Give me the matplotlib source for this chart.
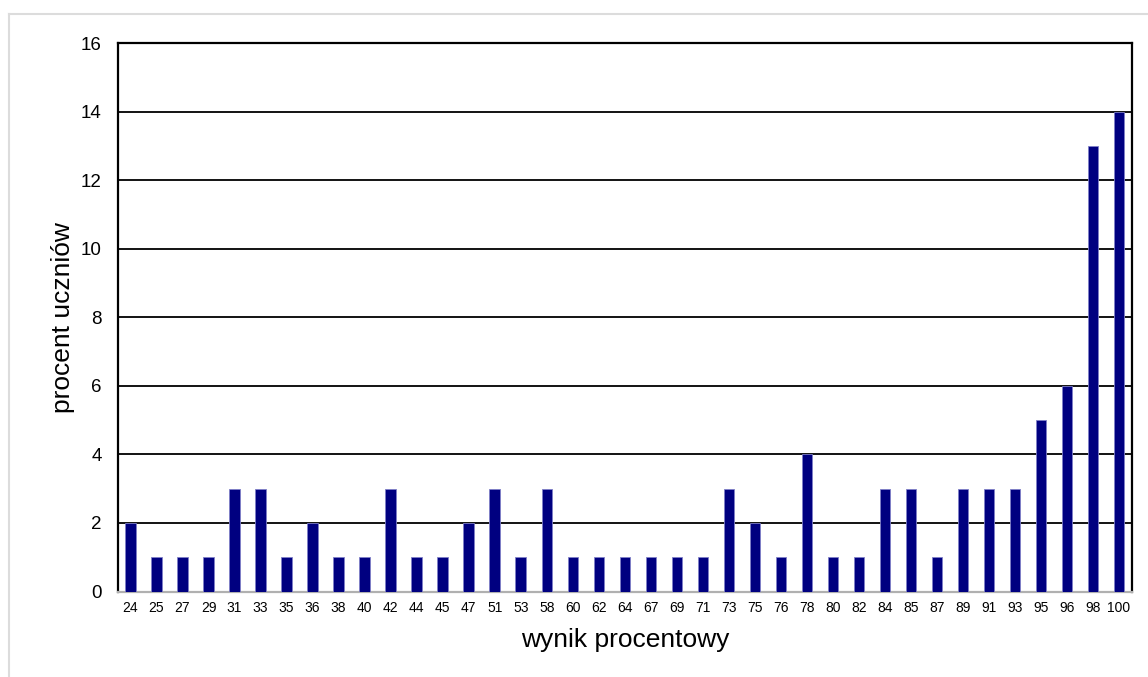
import numpy as np
import matplotlib.pyplot as plt
from matplotlib.lines import Line2D

plt.rcParams['font.family'] = ['Liberation Sans', 'DejaVu Sans']

wyniki = ['24', '25', '27', '29', '31', '33', '35', '36', '38', '40', '42', '44', '45',
          '47', '51', '53', '58', '60', '62', '64', '67', '69', '71', '73', '75', '76',
          '78', '80', '82', '84', '85', '87', '89', '91', '93', '95', '96', '98', '100']
procent = [2, 1, 1, 1, 3, 3, 1, 2, 1, 1, 3, 1, 1,
           2, 3, 1, 3, 1, 1, 1, 1, 1, 1, 3, 2, 1,
           4, 1, 1, 3, 3, 1, 3, 3, 3, 5, 6, 13, 14]

W, H = 1148, 677
fig = plt.figure(figsize=(W / 100, H / 100), dpi=100)
ax = fig.add_axes([117.5 / W, 1 - 591.5 / H, (1132 - 117.5) / W, (591.5 - 43) / H])

x = np.arange(len(wyniki))
ax.bar(x, procent, width=0.4, color='#000080', edgecolor='#8080c8', linewidth=0.6, zorder=3)

ax.set_xlim(-0.5, len(wyniki) - 0.5)
ax.set_ylim(0, 16)
ax.set_yticks(range(0, 17, 2))
ax.set_xticks(x)
ax.set_xticklabels(wyniki, fontsize=10)
ax.tick_params(axis='y', length=0, labelsize=13.5, pad=11.5)
ax.tick_params(axis='x', length=0, pad=6.5)
ax.grid(axis='y', color='black', linewidth=1.3, zorder=1)

for s in ['left', 'top', 'right']:
    ax.spines[s].set_color('black')
    ax.spines[s].set_linewidth(1.6)
ax.spines['bottom'].set_color('#b0b0b0')
ax.spines['bottom'].set_linewidth(1.6)

ax.set_xlabel('wynik procentowy', fontsize=19)
ax.set_ylabel('procent uczniów', fontsize=19)
ax.xaxis.set_label_coords(0.5, -0.067)
ax.yaxis.set_label_coords(-0.042, 0.5)

# light gray frame of the chart area
fig.add_artist(Line2D([8.5 / W, 8.5 / W], [0, 1 - 14 / H], color='#dcdcdc', linewidth=1.5))
fig.add_artist(Line2D([8.5 / W, 1], [1 - 14 / H, 1 - 14 / H], color='#dcdcdc', linewidth=1.5))

fig.savefig('out.png', dpi=100)
